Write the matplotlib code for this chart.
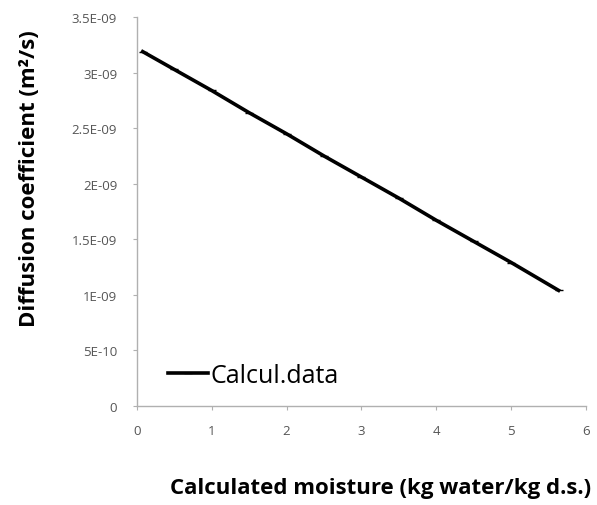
import numpy as np
import matplotlib
matplotlib.use("Agg")
import matplotlib.pyplot as plt

# values
moisture = [0.08, 0.5, 1.0, 1.5, 2.0, 2.5, 3.0, 3.5, 4.0, 4.5, 5.0, 5.63]
diff_coef = [3.19e-9, 3.03e-9, 2.84e-9, 2.64e-9, 2.45e-9, 2.25e-9,
             2.06e-9, 1.87e-9, 1.67e-9, 1.48e-9, 1.29e-9, 1.04e-9]
yticks = [0, 5e-10, 1e-9, 1.5e-9, 2e-9, 2.5e-9, 3e-9, 3.5e-9]
ytick_labels = ["0", "5E-10", "1E-09", "1.5E-09", "2E-09", "2.5E-09", "3E-09", "3.5E-09"]

plt.rcParams["font.family"] = ["Open Sans", "DejaVu Sans"]

fig = plt.figure(figsize=(5.97, 5.06), dpi=100)
ax = fig.add_axes([0.229, 0.196, 0.753, 0.768])

ax.plot(moisture, diff_coef, color="black", lw=2.6, marker="_", ms=6,
        label="Calcul.data")

ax.set_xlim(0, 6)
ax.set_ylim(0, 3.5e-9)
ax.set_xticks(range(0, 7))
ax.set_yticks(yticks)
ax.set_yticklabels(ytick_labels)

for s in ["top", "right"]:
    ax.spines[s].set_visible(False)
for s in ["left", "bottom"]:
    ax.spines[s].set_color("#b0b0b0")
    ax.spines[s].set_linewidth(1.0)
ax.tick_params(colors="#b0b0b0", labelcolor="#555555", labelsize=9.5,
               length=3, direction="out")
ax.tick_params(axis="x", pad=10)
ax.tick_params(axis="y", pad=11)

# axis titles placed as in the picture
fig.text(0.638, 0.034, "Calculated moisture (kg water/kg d.s.)", fontsize=16,
         fontweight="bold", ha="center", va="center")
fig.text(0.05, 0.646, "Diffusion coefficient (m²/s)", fontsize=16,
         fontweight="bold", ha="center", va="center", rotation=90)

ax.legend(loc="center left", bbox_to_anchor=(0.02, 0.078), frameon=False,
          fontsize=18, handlelength=1.6, handletextpad=0.1)

fig.savefig("out.png", dpi=100, facecolor="white")
